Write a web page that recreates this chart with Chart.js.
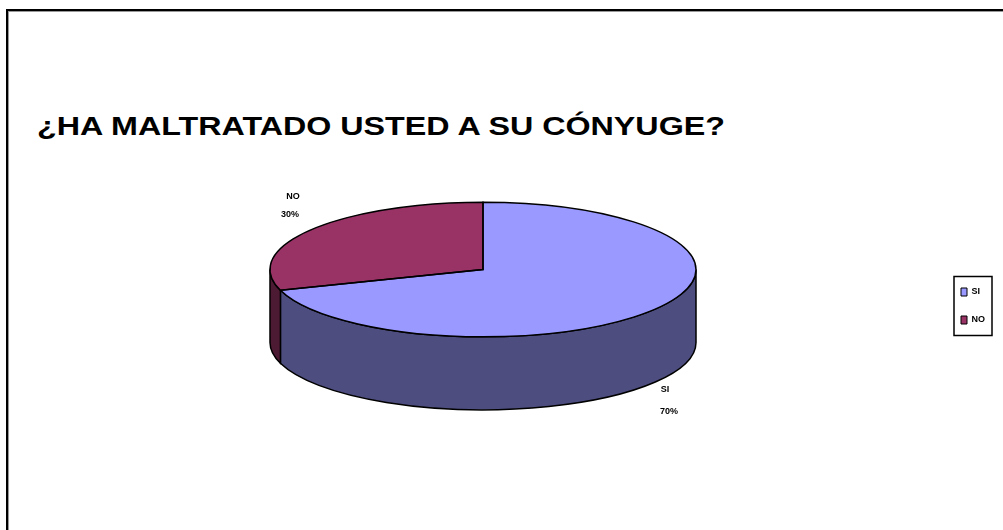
<!DOCTYPE html>
<html>
<head>
    <title>Maltrato al cónyuge</title>
    <script src="https://cdn.jsdelivr.net/npm/chart.js"></script>
    <style>
        body { margin: 0; background: #fff; overflow: hidden; }
        .frame {
            position: absolute; left: 6px; top: 9px; width: 1100px; height: 600px;
            border-left: 2px solid #000; border-top: 2px solid #000;
            box-shadow: inset 1px 1px 0 #999;
        }
        h1 {
            position: absolute; left: 37px; top: 114px; margin: 0; white-space: nowrap;
            font: bold 25px 'Liberation Sans', Arial, sans-serif; line-height: 25px; color: #000;
            transform: scaleX(1.29); transform-origin: 0 0;
        }
        #wrap { position: absolute; left: 0; top: 0; width: 1003px; height: 530px; }
    </style>
</head>
<body>
    <div class="frame"></div>
    <h1>¿HA MALTRATADO USTED A SU CÓNYUGE?</h1>
    <div id="wrap"><canvas id="pieChart"></canvas></div>
    <script>
        // datos del gráfico
        var categories = ['SI', 'NO'];
        var values = [70, 30];
        var topColors = ['#9999ff', '#993366'];
        var sideColors = ['#4d4d80', '#4d1a33'];

        var tilt = 0.316;   // alto/ancho de la elipse
        var depth = 73;     // grosor del pastel

        // dibuja el pastel en perspectiva usando los arcos de Chart.js
        var pie3d = {
            id: 'pie3d',
            beforeDatasetsDraw: function (chart) {
                var ctx = chart.ctx;
                var arcs = chart.getDatasetMeta(0).data;
                var cx = arcs[0].x, cy = arcs[0].y, r = arcs[0].outerRadius;
                var ry = r * tilt, top = cy - depth / 2;

                ctx.save();
                ctx.lineWidth = 1.5;
                ctx.strokeStyle = '#000';
                arcs.forEach(function (arc, i) {
                    [-2 * Math.PI, 0, 2 * Math.PI].forEach(function (k) {
                        var s = Math.max(arc.startAngle, k), e = Math.min(arc.endAngle, k + Math.PI);
                        if (e <= s) return;
                        ctx.beginPath();
                        ctx.ellipse(cx, top, r, ry, 0, s, e, false);
                        ctx.ellipse(cx, top + depth, r, ry, 0, e, s, true);
                        ctx.closePath();
                        ctx.fillStyle = sideColors[i];
                        ctx.fill();
                        ctx.stroke();
                    });
                });
                ctx.restore();

                ctx.save();
                ctx.translate(cx, top);
                ctx.scale(1, tilt);
                ctx.translate(-cx, -cy);
            },
            afterDatasetsDraw: function (chart) {
                var ctx = chart.ctx;
                ctx.restore();
                var arcs = chart.getDatasetMeta(0).data;
                var cx = arcs[0].x, cy = arcs[0].y, r = arcs[0].outerRadius;
                var ry = r * tilt, top = cy - depth / 2;
                var total = values.reduce(function (a, b) { return a + b; }, 0);

                ctx.save();
                ctx.lineWidth = 1.5;
                ctx.strokeStyle = '#000';
                arcs.forEach(function (arc) {
                    ctx.beginPath();
                    ctx.moveTo(cx, top);
                    ctx.ellipse(cx, top, r, ry, 0, arc.startAngle, arc.endAngle, false);
                    ctx.closePath();
                    ctx.stroke();
                });

                // etiquetas de datos
                ctx.fillStyle = '#000';
                ctx.font = 'bold 9px "Liberation Sans", Arial, sans-serif';
                ctx.textAlign = 'center';
                ctx.textBaseline = 'middle';
                arcs.forEach(function (arc, i) {
                    var mid = (arc.startAngle + arc.endAngle) / 2;
                    var px = cx + r * 1.08 * Math.cos(mid);
                    var py = top + ry * 1.08 * Math.sin(mid);
                    var pct = Math.round(values[i] / total * 100) + '%';
                    if (Math.sin(mid) > 0) {
                        py += depth;
                        ctx.fillText(categories[i], px - 4, py + 4);
                        ctx.fillText(pct, px, py + 26);
                    } else {
                        ctx.fillText(categories[i], px - 4, py - 30);
                        ctx.fillText(pct, px - 7, py - 12);
                    }
                });
                ctx.restore();
            },
            afterDraw: function (chart) {
                var boxes = chart.legend.legendHitBoxes;
                if (!boxes || !boxes.length) return;
                var x0 = Infinity, y0 = Infinity, x1 = -Infinity, y1 = -Infinity;
                boxes.forEach(function (b) {
                    x0 = Math.min(x0, b.left); y0 = Math.min(y0, b.top);
                    x1 = Math.max(x1, b.left + b.width); y1 = Math.max(y1, b.top + b.height);
                });
                var ctx = chart.ctx;
                ctx.save();
                ctx.strokeStyle = '#000';
                ctx.lineWidth = 1.5;
                ctx.strokeRect(x0 - 7, y0 - 11, (x1 - x0) + 14, (y1 - y0) + 22);
                ctx.restore();
            }
        };

        var ctx = document.getElementById('pieChart').getContext('2d');
        var myChart = new Chart(ctx, {
            type: 'pie',
            data: {
                labels: categories,
                datasets: [{
                    data: values,
                    backgroundColor: topColors,
                    borderWidth: 0,
                    radius: 213,
                    clip: false
                }]
            },
            options: {
                responsive: true,
                maintainAspectRatio: false,
                animation: false,
                events: [],
                layout: { padding: { left: 24, right: 8, top: 82, bottom: 0 } },
                plugins: {
                    legend: {
                        position: 'right',
                        labels: {
                            boxWidth: 6,
                            boxHeight: 8,
                            padding: 19,
                            color: '#000',
                            font: { family: '"Liberation Sans", Arial, sans-serif', size: 9, weight: 'bold' },
                            generateLabels: function (chart) {
                                return categories.map(function (c, i) {
                                    return { text: c, fillStyle: topColors[i], strokeStyle: '#000', lineWidth: 1, index: i };
                                });
                            }
                        }
                    },
                    tooltip: { enabled: false }
                }
            },
            plugins: [pie3d]
        });
    </script>
</body>
</html>
